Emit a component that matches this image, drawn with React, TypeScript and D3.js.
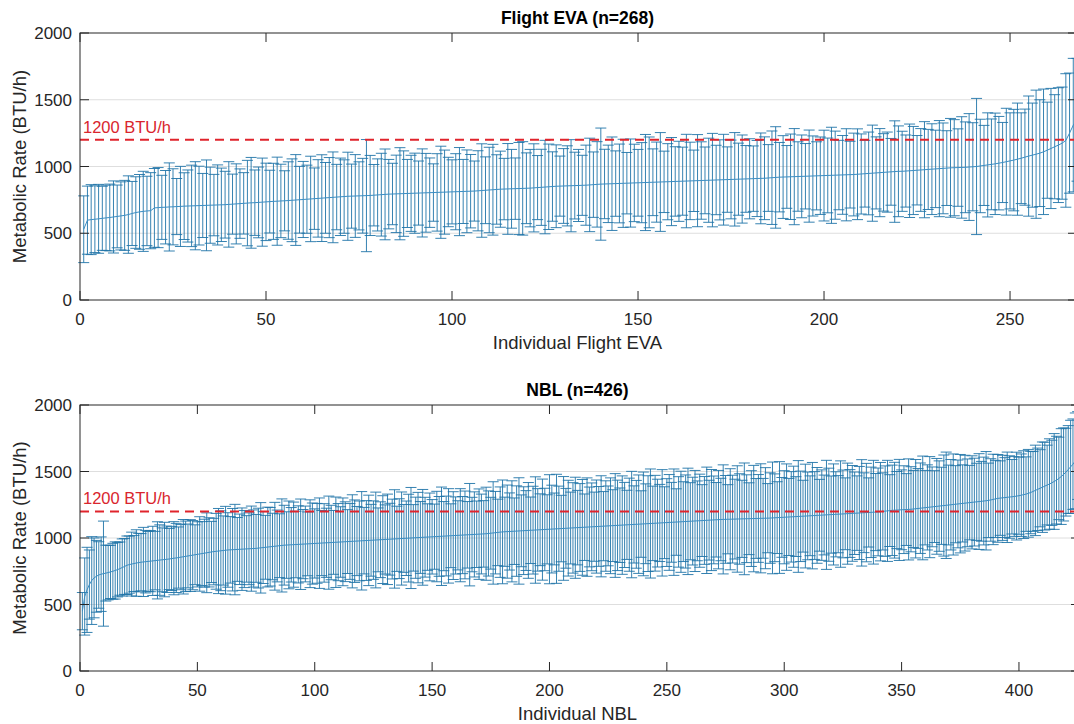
import React from 'react';
import * as d3 from 'd3';

// Flight EVA: sorted mean metabolic rate (BTU/h) and standard deviation per EVA
const evaMean = [
  530, 598, 602, 605, 608, 612, 615, 618, 622, 626,
  630, 634, 640, 648, 655, 660, 664, 667, 669, 690,
  692, 694, 695, 697, 698, 700, 701, 703, 704, 705,
  706, 707, 708, 709, 710, 711, 712, 713, 714, 716,
  718, 720, 722, 724, 726, 728, 729, 731, 733, 735,
  737, 739, 740, 742, 743, 745, 747, 749, 751, 753,
  755, 757, 759, 761, 763, 765, 767, 769, 771, 773,
  775, 777, 778, 779, 780, 781, 782, 783, 785, 787,
  789, 791, 793, 794, 795, 796, 797, 798, 799, 800,
  801, 802, 803, 804, 805, 806, 807, 808, 809, 810,
  811, 812, 813, 814, 815, 816, 818, 820, 822, 824,
  826, 828, 830, 831, 832, 833, 834, 835, 836, 837,
  838, 840, 842, 844, 846, 848, 850, 852, 853, 854,
  855, 856, 857, 858, 859, 860, 862, 864, 866, 868,
  869, 870, 871, 872, 873, 874, 875, 876, 877, 878,
  879, 880, 881, 882, 883, 884, 885, 886, 887, 888,
  889, 890, 891, 892, 893, 894, 895, 896, 897, 898,
  899, 900, 901, 902, 903, 904, 905, 906, 907, 908,
  909, 910, 911, 912, 914, 916, 918, 920, 921, 922,
  923, 924, 925, 926, 927, 928, 929, 930, 931, 932,
  933, 934, 935, 936, 937, 938, 939, 940, 942, 944,
  946, 948, 950, 952, 954, 956, 958, 960, 962, 964,
  964, 966, 968, 970, 972, 974, 976, 978, 980, 982,
  984, 986, 988, 990, 991, 992, 993, 994, 996, 998,
  1000, 1004, 1008, 1012, 1016, 1020, 1025, 1030, 1036, 1042,
  1048, 1055, 1062, 1070, 1078, 1085, 1092, 1100, 1110, 1122,
  1135, 1148, 1160, 1175, 1195, 1250, 1310, 1350,
];
const evaSd = [
  250, 255, 262, 250, 258, 240, 245, 250, 270, 235,
  255, 262, 290, 240, 268, 280, 300, 260, 285, 295,
  300, 240, 275, 330, 285, 210, 300, 250, 270, 305,
  330, 295, 240, 340, 285, 230, 300, 275, 250, 320,
  225, 300, 260, 230, 320, 340, 245, 265, 330, 290,
  235, 285, 330, 275, 225, 290, 310, 340, 250, 285,
  255, 320, 230, 290, 325, 265, 300, 340, 245, 290,
  275, 330, 240, 310, 255, 280, 420, 300, 230, 270,
  310, 340, 260, 230, 290, 345, 320, 255, 285, 300,
  240, 330, 295, 260, 215, 290, 345, 315, 260, 240,
  285, 330, 240, 310, 275, 225, 300, 350, 250, 320,
  340, 260, 285, 230, 340, 295, 230, 345, 350, 265,
  290, 330, 240, 285, 350, 320, 260, 310, 225, 280,
  300, 345, 250, 270, 225, 300, 350, 245, 320, 420,
  260, 290, 350, 245, 295, 330, 230, 330, 290, 250,
  300, 360, 340, 250, 300, 370, 230, 285, 330, 260,
  300, 255, 350, 290, 230, 345, 290, 250, 315, 350,
  260, 300, 340, 245, 295, 350, 270, 330, 250, 300,
  245, 285, 340, 310, 250, 350, 380, 260, 310, 235,
  320, 360, 260, 310, 245, 345, 300, 255, 290, 340,
  280, 360, 330, 260, 295, 345, 250, 310, 340, 300,
  250, 310, 360, 270, 330, 290, 300, 250, 380, 340,
  300, 270, 350, 330, 260, 310, 360, 300, 340, 290,
  360, 340, 280, 370, 360, 290, 380, 340, 400, 330,
  510, 350, 300, 390, 340, 380, 350, 300, 400, 360,
  380, 420, 340, 360, 450, 390, 480, 400, 470, 360,
  450, 390, 430, 420, 500, 450, 500, 460,
];

// NBL: sorted mean metabolic rate (BTU/h) and standard deviation per run
const nblMean = [
  450, 560, 610, 650, 680, 700, 712, 722, 728, 732,
  736, 740, 745, 750, 756, 762, 770, 778, 786, 795,
  800, 804, 808, 812, 815, 818, 820, 822, 824, 826,
  828, 830, 832, 834, 836, 838, 840, 842, 845, 848,
  850, 853, 856, 859, 862, 865, 868, 871, 874, 877,
  880, 883, 886, 889, 892, 895, 898, 900, 902, 904,
  906, 908, 910, 911, 912, 913, 914, 915, 916, 917,
  918, 919, 920, 921, 922, 924, 926, 928, 930, 932,
  934, 936, 938, 940, 942, 944, 946, 947, 948, 949,
  950, 951, 952, 953, 954, 955, 956, 957, 958, 959,
  960, 961, 962, 963, 964, 965, 966, 967, 968, 969,
  970, 971, 972, 973, 974, 975, 976, 977, 978, 979,
  980, 981, 982, 983, 984, 985, 986, 987, 988, 989,
  990, 991, 992, 993, 994, 995, 996, 997, 998, 999,
  1000, 1001, 1002, 1003, 1004, 1005, 1006, 1007, 1008, 1009,
  1010, 1011, 1012, 1013, 1014, 1015, 1016, 1017, 1018, 1019,
  1020, 1021, 1022, 1023, 1024, 1025, 1026, 1027, 1028, 1029,
  1030, 1031, 1032, 1034, 1036, 1038, 1040, 1042, 1044, 1046,
  1047, 1048, 1049, 1050, 1051, 1052, 1053, 1054, 1055, 1056,
  1057, 1058, 1059, 1060, 1061, 1062, 1063, 1064, 1065, 1066,
  1067, 1068, 1069, 1070, 1071, 1072, 1073, 1074, 1075, 1076,
  1077, 1078, 1079, 1080, 1081, 1082, 1083, 1084, 1085, 1086,
  1087, 1088, 1089, 1090, 1091, 1092, 1093, 1094, 1095, 1096,
  1097, 1098, 1099, 1100, 1101, 1102, 1103, 1104, 1105, 1106,
  1107, 1108, 1109, 1110, 1111, 1112, 1113, 1114, 1115, 1116,
  1117, 1118, 1119, 1120, 1121, 1122, 1123, 1124, 1125, 1126,
  1127, 1128, 1129, 1130, 1131, 1132, 1133, 1134, 1135, 1136,
  1137, 1138, 1139, 1140, 1140, 1141, 1141, 1142, 1142, 1143,
  1143, 1144, 1144, 1145, 1145, 1146, 1146, 1147, 1147, 1148,
  1148, 1149, 1149, 1150, 1151, 1152, 1153, 1154, 1155, 1156,
  1157, 1158, 1159, 1160, 1161, 1162, 1163, 1164, 1165, 1166,
  1167, 1168, 1169, 1170, 1171, 1172, 1173, 1174, 1175, 1176,
  1177, 1178, 1179, 1180, 1181, 1182, 1183, 1184, 1185, 1186,
  1187, 1188, 1189, 1190, 1191, 1192, 1193, 1194, 1195, 1196,
  1198, 1200, 1202, 1204, 1206, 1208, 1209, 1210, 1211, 1212,
  1213, 1214, 1215, 1216, 1218, 1220, 1222, 1224, 1226, 1228,
  1230, 1232, 1234, 1236, 1238, 1240, 1242, 1244, 1246, 1248,
  1250, 1252, 1254, 1256, 1258, 1260, 1262, 1264, 1266, 1268,
  1270, 1272, 1274, 1276, 1278, 1280, 1283, 1286, 1290, 1294,
  1298, 1300, 1302, 1304, 1306, 1308, 1310, 1312, 1315, 1318,
  1322, 1326, 1330, 1336, 1342, 1350, 1358, 1366, 1374, 1382,
  1390, 1398, 1406, 1415, 1425, 1435, 1448, 1462, 1478, 1495,
  1515, 1535, 1555, 1580, 1620, 1680,
];
const nblSd = [
  140, 290, 320, 260, 330, 300, 270, 250, 280, 395,
  210, 205, 200, 210, 215, 205, 200, 215, 210, 220,
  215, 240, 210, 250, 220, 215, 260, 235, 225, 230,
  260, 220, 290, 265, 240, 280, 250, 230, 240, 275,
  260, 230, 245, 280, 265, 240, 270, 260, 225, 245,
  280, 240, 255, 300, 260, 230, 250, 285, 320, 300,
  260, 330, 280, 250, 310, 340, 240, 265, 310, 290,
  250, 270, 320, 290, 255, 300, 340, 270, 240, 300,
  295, 250, 330, 270, 240, 350, 300, 250, 330, 280,
  320, 250, 290, 340, 260, 285, 240, 330, 305, 260,
  300, 340, 245, 295, 260, 350, 280, 240, 340, 290,
  265, 330, 300, 240, 285, 350, 310, 260, 300, 370,
  250, 300, 340, 270, 295, 360, 240, 285, 330, 260,
  340, 270, 300, 370, 245, 300, 350, 255, 280, 330,
  380, 250, 305, 340, 270, 360, 300, 250, 330, 280,
  245, 340, 300, 370, 260, 300, 355, 240, 330, 290,
  260, 350, 290, 330, 250, 385, 280, 320, 250, 340,
  300, 250, 350, 320, 270, 385, 310, 250, 340, 390,
  260, 350, 290, 380, 250, 340, 400, 270, 330, 300,
  360, 250, 330, 400, 310, 270, 380, 310, 260, 410,
  330, 270, 410, 320, 250, 390, 300, 360, 270, 340,
  380, 280, 330, 360, 250, 370, 300, 330, 260, 350,
  300, 380, 260, 340, 300, 360, 270, 390, 340, 280,
  370, 320, 260, 350, 400, 290, 330, 370, 250, 390,
  300, 360, 410, 280, 360, 330, 290, 400, 270, 330,
  360, 300, 400, 250, 340, 380, 300, 350, 400, 290,
  330, 380, 300, 350, 270, 330, 400, 300, 380, 330,
  280, 370, 310, 410, 330, 260, 380, 330, 300, 400,
  340, 290, 420, 330, 270, 360, 400, 300, 330, 410,
  300, 380, 260, 340, 420, 330, 270, 420, 300, 350,
  400, 290, 340, 380, 300, 420, 340, 270, 390, 330,
  300, 400, 330, 360, 270, 340, 300, 410, 350, 290,
  380, 320, 290, 400, 330, 270, 380, 330, 360, 310,
  280, 350, 400, 300, 370, 260, 340, 390, 290, 330,
  370, 290, 340, 380, 270, 340, 360, 290, 380, 300,
  330, 270, 380, 320, 290, 370, 300, 340, 390, 280,
  320, 380, 300, 270, 360, 340, 290, 380, 400, 300,
  340, 380, 290, 330, 370, 290, 360, 330, 280, 350,
  330, 290, 360, 300, 330, 370, 280, 310, 340, 290,
  330, 280, 320, 300, 340, 310, 280, 300, 330, 290,
  310, 330, 280, 330, 310, 300, 340, 310, 290, 340,
  330, 300, 340, 320, 360, 330, 310, 360, 350, 330,
  330, 350, 340, 360, 330, 350,
];

const yTicks = [0, 500, 1000, 1500, 2000];
const evaTicks = [0, 50, 100, 150, 200, 250];
const nblTicks = [0, 50, 100, 150, 200, 250, 300, 350, 400];
const threshold = 1200;

const FONT = '"Liberation Sans", Arial, Helvetica, sans-serif';
const AXIS = '#262626';
const BLUE = '#1f74a8';

function Panel({ top, bottom, left, right, mean, sd, xTicks, title, xLabel }) {
  const n = mean.length;
  const x = d3.scaleLinear().domain([0, n]).range([left, right]);
  const y = d3.scaleLinear().domain([0, 2000]).range([bottom, top]);
  const pts = mean.map((m, i) => ({ i: i + 1, m, s: sd[i] }));
  const line = d3.line<any>().x(d => x(d.i)).y(d => y(d.m));
  const cap = 5.5;
  const tick = 9;
  const midX = (left + 1077) / 2 - 1;
  return (
    <g>
      {yTicks.slice(1, 4).map(t => (
        <line key={'g' + t} x1={left} x2={right} y1={y(t)} y2={y(t)} stroke="#dedede" strokeWidth={1} />
      ))}
      <g stroke={BLUE} strokeWidth={0.9} fill="none">
        {pts.map(d => (
          <g key={d.i}>
            <line x1={x(d.i)} x2={x(d.i)} y1={y(d.m - d.s)} y2={y(d.m + d.s)} />
            <line x1={x(d.i) - cap} x2={x(d.i) + cap} y1={y(d.m - d.s)} y2={y(d.m - d.s)} />
            <line x1={x(d.i) - cap} x2={x(d.i) + cap} y1={y(d.m + d.s)} y2={y(d.m + d.s)} />
          </g>
        ))}
      </g>
      <path d={line(pts) || ''} fill="none" stroke="#3b8ec4" strokeWidth={1} />
      <line x1={left} x2={right} y1={y(threshold)} y2={y(threshold)} stroke="#e0242c" strokeWidth={2} strokeDasharray="9,6" />
      <text x={left + 3} y={y(threshold) - 7} fill="#d9252d" fontSize={16.5} fontFamily={FONT}>1200 BTU/h</text>
      <rect x={left} y={top} width={right - left} height={bottom - top} fill="none" stroke={AXIS} strokeWidth={1} />
      {xTicks.map(t => (
        <g key={'x' + t}>
          <line x1={x(t)} x2={x(t)} y1={bottom} y2={bottom - tick} stroke={AXIS} />
          <line x1={x(t)} x2={x(t)} y1={top} y2={top + tick} stroke={AXIS} />
          <text x={x(t)} y={bottom + 25} textAnchor="middle" fontSize={17} fill={AXIS} fontFamily={FONT}>{t}</text>
        </g>
      ))}
      {yTicks.map(t => (
        <g key={'y' + t}>
          <line x1={left} x2={left + tick} y1={y(t)} y2={y(t)} stroke={AXIS} />
          <line x1={right} x2={right - tick} y1={y(t)} y2={y(t)} stroke={AXIS} />
          <text x={left - 8} y={y(t) + 6} textAnchor="end" fontSize={17} fill={AXIS} fontFamily={FONT}>{t}</text>
        </g>
      ))}
      <text x={midX} y={top - 9} textAnchor="middle" fontSize={17.5} fontWeight="bold" fill="#000" fontFamily={FONT}>{title}</text>
      <text x={midX} y={bottom + 49} textAnchor="middle" fontSize={18.5} fill={AXIS} fontFamily={FONT}>{xLabel}</text>
      <text transform={`translate(26,${(top + bottom) / 2}) rotate(-90)`} textAnchor="middle" fontSize={18.5} fill={AXIS} fontFamily={FONT}>
        Metabolic Rate (BTU/h)
      </text>
    </g>
  );
}

export default function App() {
  return (
    <div style={{ position: 'absolute', left: 0, top: 0 }}>
      <svg width={1074} height={724} style={{ display: 'block', background: '#fff' }}>
        <Panel top={33} bottom={300} left={80} right={1077} mean={evaMean} sd={evaSd}
          xTicks={evaTicks} title="Flight EVA (n=268)" xLabel="Individual Flight EVA" />
        <Panel top={405} bottom={671} left={80} right={1080} mean={nblMean} sd={nblSd}
          xTicks={nblTicks} title="NBL (n=426)" xLabel="Individual NBL" />
      </svg>
    </div>
  );
}
